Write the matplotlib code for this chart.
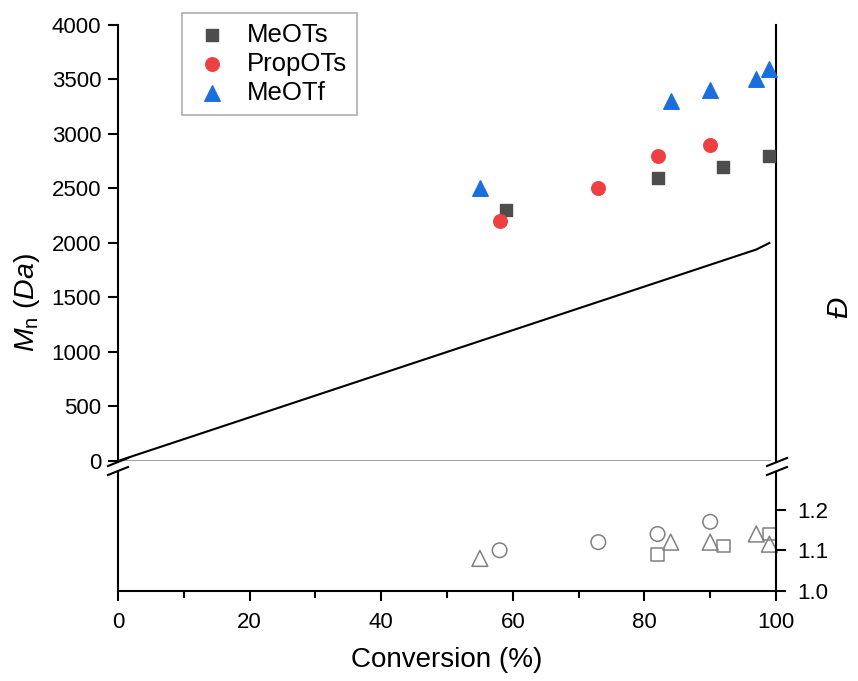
import matplotlib.pyplot as plt
import numpy as np

plt.rcParams['font.family'] = ['Liberation Sans', 'DejaVu Sans']
plt.rcParams['mathtext.fontset'] = 'custom'
plt.rcParams['mathtext.rm'] = 'Liberation Sans'
plt.rcParams['mathtext.it'] = 'Liberation Sans:italic'

# Mn data (conversion %, Mn in Da)
meots_conv = [59, 82, 92, 99]
meots_mn = [2300, 2600, 2700, 2800]
propots_conv = [58, 73, 82, 90]
propots_mn = [2200, 2500, 2800, 2900]
meotf_conv = [55, 84, 90, 97, 99]
meotf_mn = [2500, 3300, 3400, 3500, 3600]

# dispersity data (MeOTs has no value at 59 %)
meots_disp_conv = [82, 92, 99]
meots_disp = [1.09, 1.11, 1.14]
propots_disp = [1.10, 1.12, 1.14, 1.17]
meotf_disp = [1.08, 1.12, 1.12, 1.14, 1.115]

# theoretical Mn line
theo_conv = [0, 97, 99]
theo_mn = [0, 1940, 2000]

W, H = 858, 681
fig = plt.figure(figsize=(W / 100, H / 100), dpi=100)
ax_top = fig.add_axes([0.1375, 0.3231, 0.7669, 0.6402])
ax_bot = fig.add_axes([0.1375, 0.1322, 0.7669, 0.1733])

# top panel: Mn
ax_top.plot(theo_conv, theo_mn, color='black', lw=1.5)
ax_top.axhline(0, xmin=0, xmax=0.99, color='#a0a0a0', lw=2.2)
ax_top.scatter(meots_conv, meots_mn, marker='s', s=75, color='#4d4d4d', label='MeOTs', zorder=3, clip_on=False)
ax_top.scatter(propots_conv, propots_mn, marker='o', s=95, color='#ee4040', label='PropOTs', zorder=3, clip_on=False)
ax_top.scatter(meotf_conv, meotf_mn, marker='^', s=125, color='#1a6fdf', label='MeOTf', zorder=3, clip_on=False)
ax_top.set_xlim(0, 100)
ax_top.set_ylim(0, 4000)
ax_top.set_yticks(np.arange(0, 4001, 500))
ax_top.set_xticks([])
ax_top.spines['top'].set_visible(False)
ax_top.spines['bottom'].set_visible(False)
for s in ['left', 'right']:
    ax_top.spines[s].set_linewidth(1.5)
ax_top.tick_params(axis='y', direction='out', length=7, width=1.5, labelsize=16, pad=5)

leg = ax_top.legend(loc='upper left', bbox_to_anchor=(0.078, 1.058), fontsize=18.5, frameon=True,
                    fancybox=False, edgecolor='#999999', handletextpad=0.6, borderpad=0.4,
                    labelspacing=0.2, handlelength=1.5)
leg.get_frame().set_linewidth(1.2)

# bottom panel: dispersity
ax_bot.scatter(meots_disp_conv, meots_disp, marker='s', s=80, facecolors='none', edgecolors='#808080', lw=1.1, clip_on=False)
ax_bot.scatter(propots_conv, propots_disp, marker='o', s=110, facecolors='none', edgecolors='#808080', lw=1.1, clip_on=False)
ax_bot.scatter(meotf_conv, meotf_disp, marker='^', s=130, facecolors='none', edgecolors='#808080', lw=1.1, clip_on=False)
ax_bot.set_xlim(0, 100)
ax_bot.set_ylim(1.0, 1.29)
ax_bot.set_xticks(np.arange(0, 101, 20))
ax_bot.set_xticks(np.arange(10, 100, 20), minor=True)
ax_bot.yaxis.tick_right()
ax_bot.set_yticks([1.0, 1.1, 1.2])
ax_bot.spines['top'].set_visible(False)
for s in ['left', 'right', 'bottom']:
    ax_bot.spines[s].set_linewidth(1.5)
ax_bot.tick_params(axis='both', which='major', direction='out', length=7, width=1.5, labelsize=16)
ax_bot.tick_params(axis='x', which='major', pad=8)
ax_bot.tick_params(axis='y', which='major', pad=8)
ax_bot.tick_params(axis='x', which='minor', direction='out', length=5, width=1.5)
ax_bot.set_xlabel('Conversion (%)', fontsize=20, labelpad=10)

# axis break marks (figure pixels)
for xc in [118, 777]:
    for yc in [462, 471]:
        fig.add_artist(plt.Line2D([(xc - 10) / W, (xc + 10) / W],
                                  [1 - (yc + 4) / H, 1 - (yc - 4) / H],
                                  color='black', lw=1.5))

fig.text(0.031, 0.5565, r'$M_{\mathrm{n}}$ $\mathit{(Da)}$', rotation=90, fontsize=20.5, va='center', ha='center')
fig.text(0.978, 0.549, 'Đ', rotation=90, fontsize=21, style='italic', va='center', ha='center')

fig.savefig('out.png', dpi=100)
